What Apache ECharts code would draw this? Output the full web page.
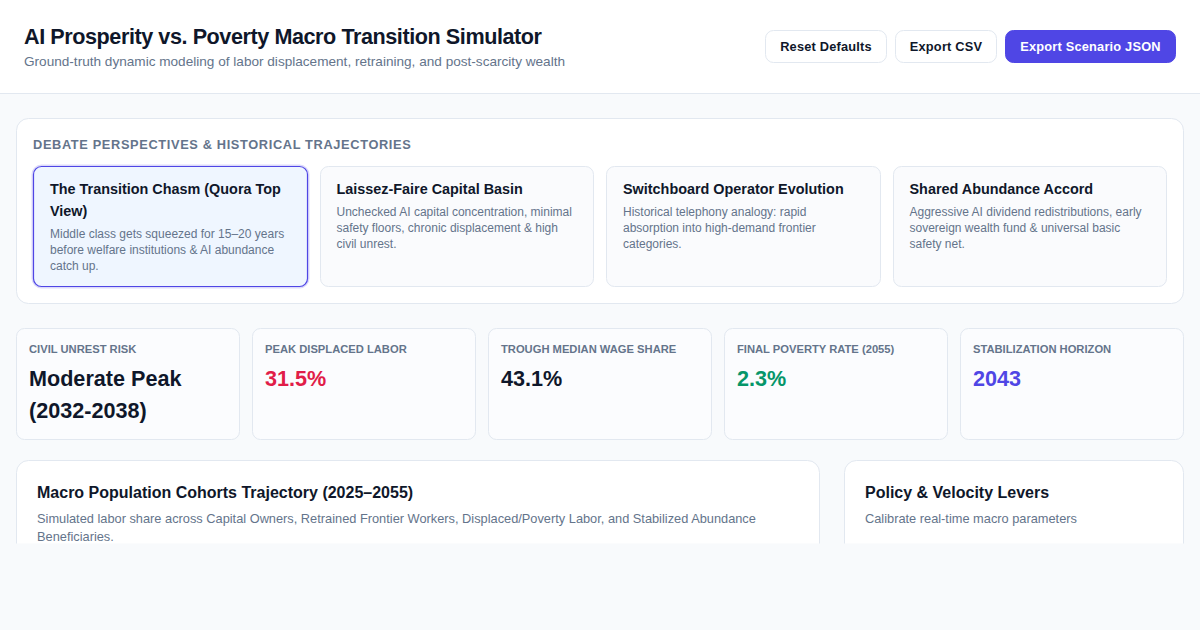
<!DOCTYPE html>
<html>
<head>
<meta charset="utf-8">
<style>
  html, body { margin: 0; padding: 0; background: #f8fafc; }
  #main { width: 1200px; height: 630px; }
</style>
<script src="https://cdn.jsdelivr.net/npm/echarts@6/dist/echarts.min.js"></script>
</head>
<body>
<div id="main"></div>
<script>
const pageTitle = 'AI Prosperity vs. Poverty Macro Transition Simulator';
const pageSubtitle = 'Ground-truth dynamic modeling of labor displacement, retraining, and post-scarcity wealth';
const buttonLabels = ['Reset Defaults', 'Export CSV', 'Export Scenario JSON'];
const debateHeading = 'DEBATE PERSPECTIVES & HISTORICAL TRAJECTORIES';
const scenarioTitles = [
    ['The Transition Chasm (Quora Top', 'View)'],
    ['Laissez-Faire Capital Basin'],
    ['Switchboard Operator Evolution'],
    ['Shared Abundance Accord']
];
const scenarioNotes = [
    ['Middle class gets squeezed for 15–20 years', 'before welfare institutions & AI abundance', 'catch up.'],
    ['Unchecked AI capital concentration, minimal', 'safety floors, chronic displacement & high', 'civil unrest.'],
    ['Historical telephony analogy: rapid', 'absorption into high-demand frontier', 'categories.'],
    ['Aggressive AI dividend redistributions, early', 'sovereign wealth fund & universal basic', 'safety net.']
];
const kpiLabels = ['CIVIL UNREST RISK', 'PEAK DISPLACED LABOR', 'TROUGH MEDIAN WAGE SHARE', 'FINAL POVERTY RATE (2055)', 'STABILIZATION HORIZON'];
const kpiValues = [['Moderate Peak', '(2032-2038)'], ['31.5%'], ['43.1%'], ['2.3%'], ['2043']];
const chartPanelTitle = 'Macro Population Cohorts Trajectory (2025–2055)';
const chartPanelNotes = ['Simulated labor share across Capital Owners, Retrained Frontier Workers, Displaced/Poverty Labor, and Stabilized Abundance', 'Beneficiaries.'];
const leverPanelTitle = 'Policy & Velocity Levers';
const leverPanelNote = 'Calibrate real-time macro parameters';

const kpiColors = ['#0f172a', '#e11d48', '#0f172a', '#059669', '#4f46e5'];
const FONT = '"Liberation Sans", Arial, sans-serif';
const INK = '#0f172a', MUTED = '#64748b', LINE = '#e2e8f0', ACCENT = '#4f46e5';

const els = [];
const tracking = [];

function box(x, y, w, h, r, fill, stroke, lw) {
    els.push({
        type: 'rect', silent: true,
        shape: { x: x + 0.5, y: y + 0.5, width: w - 1, height: h - 1, r: r },
        style: { fill: fill, stroke: stroke || null, lineWidth: lw === undefined ? 1 : lw }
    });
}

function label(text, x, y, font, fill, spacing, align) {
    els.push({
        type: 'text', silent: true,
        style: { text: text, x: x, y: y, font: font + ' ' + FONT, fill: fill, verticalAlign: 'middle', align: align || 'left' }
    });
    if (spacing) tracking.push([text, spacing]);
}

// 页面背景与顶栏
box(-1, -1, 1202, 632, 0, '#f8fafc');
box(-1, -1, 1202, 95, 0, '#ffffff', LINE);
label(pageTitle, 24, 36, 'bold 21.6px', INK, -0.432);
label(pageSubtitle, 24, 61.5, '13.6px', MUTED);

// 按钮
const buttonX = [765, 895, 1005], buttonW = [122, 102, 171];
buttonLabels.forEach(function (t, i) {
    const primary = i === 2;
    box(buttonX[i], 30, buttonW[i], 33, 8, primary ? ACCENT : '#ffffff', primary ? ACCENT : LINE);
    label(t, buttonX[i] + buttonW[i] / 2, 46.5, 'bold 12.8px', primary ? '#ffffff' : INK, 0.2, 'center');
});

// 情景面板
box(16, 118, 1168, 186, 12, '#ffffff', LINE);
label(debateHeading, 33, 144.5, 'bold 12.8px', MUTED, 0.64);
const cardX = [33, 320, 606, 893], cardW = [275, 274, 275, 274], cardTextX = [50, 336.5, 623, 909.5];
scenarioTitles.forEach(function (lines, i) {
    const active = i === 0;
    if (active) box(cardX[i] - 1, 165, cardW[i] + 2, 123, 9, 'none', 'rgba(79,70,229,0.2)', 2);
    box(cardX[i], 166, cardW[i], 121, 8, active ? '#eff6ff' : '#fafbfd', active ? ACCENT : LINE, active ? 1.2 : 1);
    lines.forEach(function (t, j) {
        label(t, cardTextX[i], 189 + j * 22, 'bold 14.4px', INK);
    });
    const noteTop = 189.7 + lines.length * 22;
    scenarioNotes[i].forEach(function (t, j) {
        label(t, cardTextX[i], noteTop + j * 16.2, '12px', MUTED);
    });
});

// 指标卡片
const kpiX = [16, 252, 488, 724, 960];
kpiLabels.forEach(function (t, i) {
    box(kpiX[i], 328, 224, 112, 8, '#fbfcfe', LINE);
    label(t, kpiX[i] + 13, 349, 'bold 11.2px', MUTED);
    kpiValues[i].forEach(function (v, j) {
        label(v, kpiX[i] + 13, 378 + j * 32, 'bold 21.6px', kpiColors[i]);
    });
});

// 下方面板（在 y=543 处被裁切）
box(16, 460, 804, 120, 12, '#ffffff', LINE);
box(844, 460, 340, 120, 12, '#ffffff', LINE);
label(chartPanelTitle, 37, 492.5, 'bold 16px', INK);
chartPanelNotes.forEach(function (t, j) {
    label(t, 37, 518.5 + j * 18.2, '12.8px', MUTED);
});
label(leverPanelTitle, 865, 492.5, 'bold 16px', INK);
label(leverPanelNote, 865, 518.5, '12.8px', MUTED);
box(-1, 543, 1202, 90, 0, '#f8fafc');

const myChart = echarts.init(document.getElementById('main'), null, { renderer: 'svg' });
myChart.setOption({ animation: false, graphic: { elements: els } });
myChart.getZr().flush();

// zrender 的文字样式没有字距，渲染后补上
document.querySelectorAll('#main svg text').forEach(function (node) {
    const hit = tracking.find(function (row) { return row[0] === node.textContent; });
    if (hit) node.style.letterSpacing = hit[1] + 'px';
});
</script>
</body>
</html>
